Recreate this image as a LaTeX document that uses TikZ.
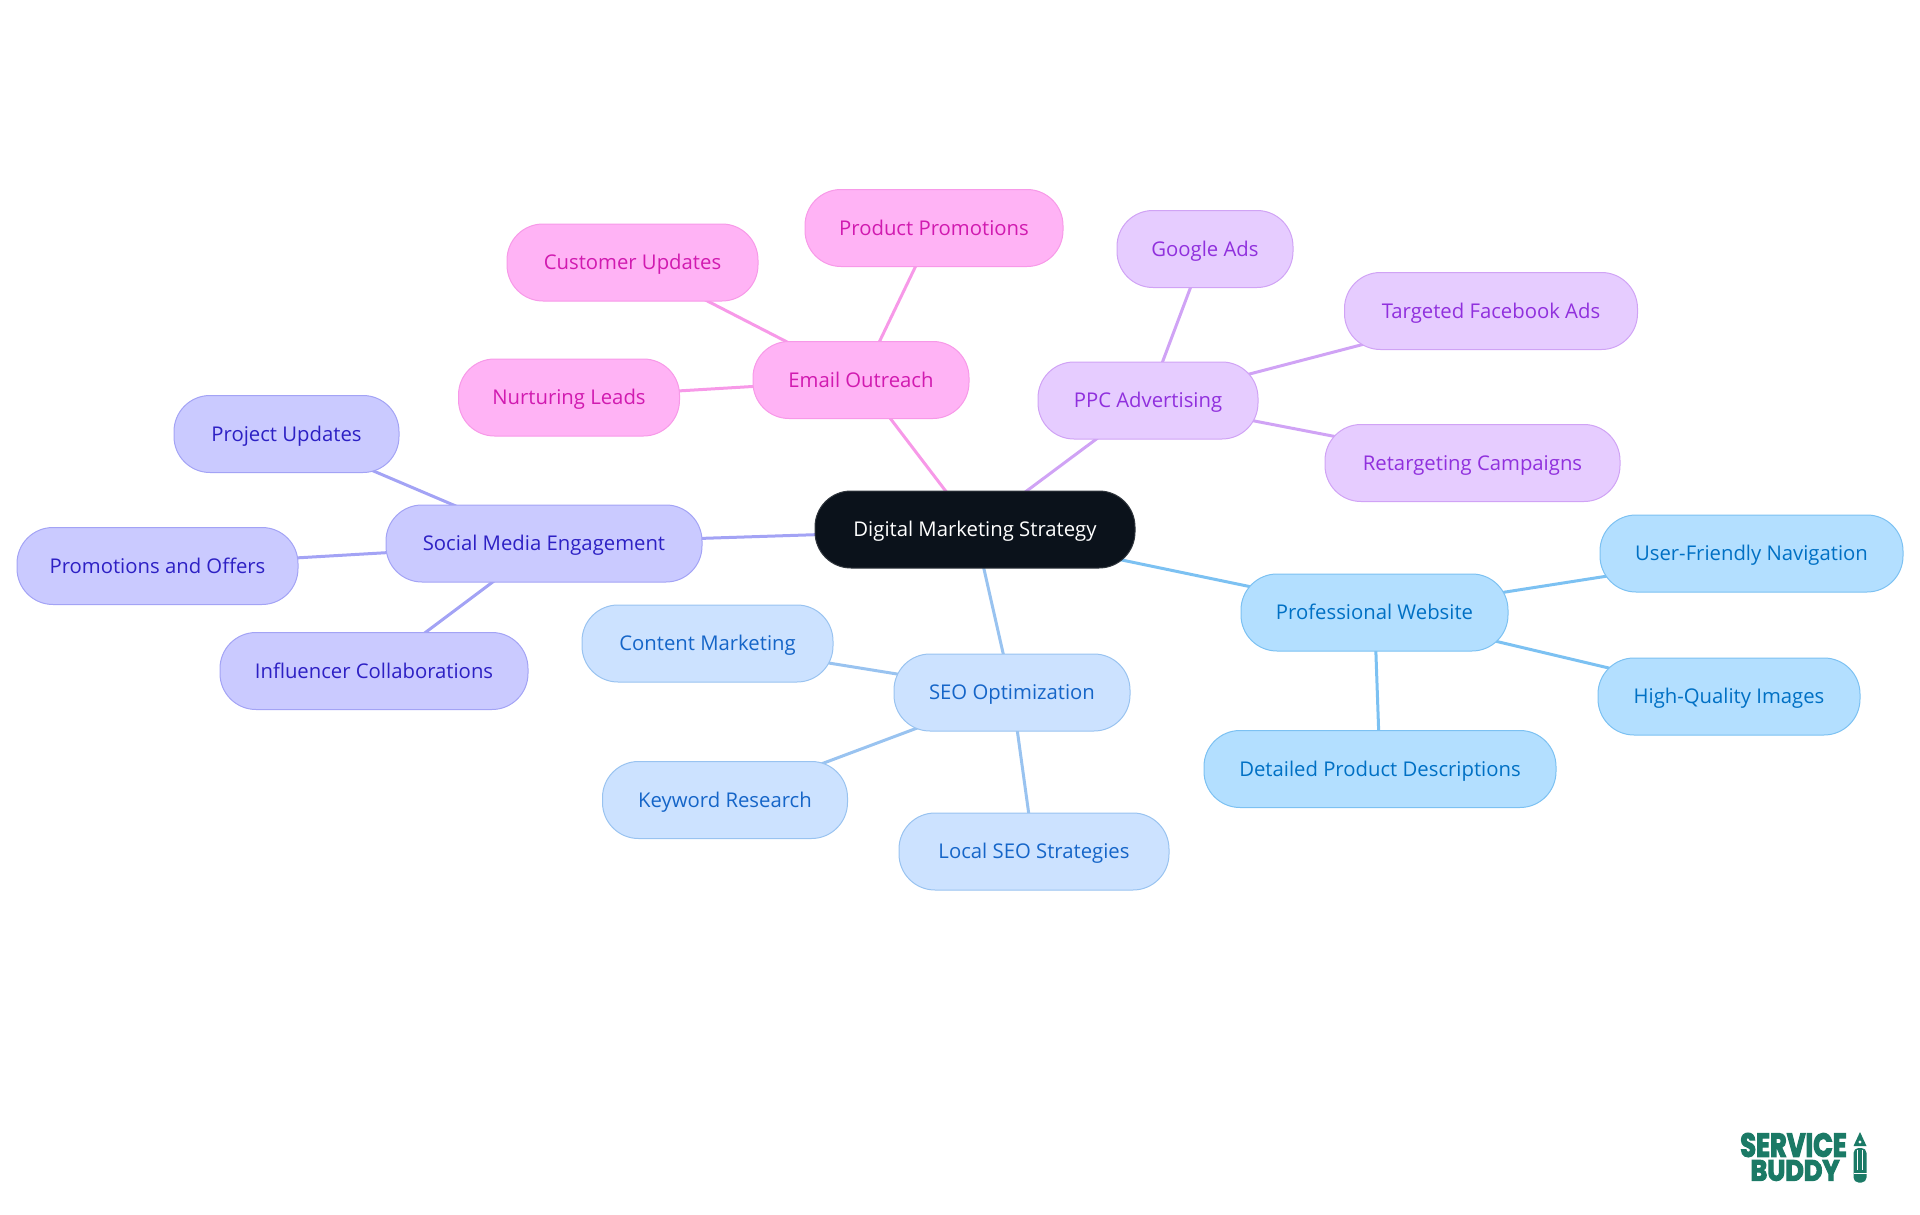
\documentclass[tikz,border=0pt]{standalone}
\usepackage{fontspec}
\setmainfont{Open Sans}
\newfontfamily\logofont[BoldFeatures={FakeBold=4}]{Poppins}
\pgfdeclarelayer{bg}
\pgfsetlayers{bg,main}
\definecolor{rootfill}{HTML}{0B121B}
\definecolor{webfill}{HTML}{B3DFFF}\definecolor{webline}{HTML}{7CC1F2}\definecolor{webtext}{HTML}{0070C4}
\definecolor{seofill}{HTML}{CCE2FF}\definecolor{seoline}{HTML}{99C3F0}\definecolor{seotext}{HTML}{1565C8}
\definecolor{socfill}{HTML}{CACAFF}\definecolor{socline}{HTML}{A3A3F5}\definecolor{soctext}{HTML}{2D20C4}
\definecolor{mailfill}{HTML}{FFB3F5}\definecolor{mailline}{HTML}{F799E8}\definecolor{mailtext}{HTML}{D11AB0}
\definecolor{ppcfill}{HTML}{E6CCFF}\definecolor{ppcline}{HTML}{D0A3F5}\definecolor{ppctext}{HTML}{9030DD}
\definecolor{logogreen}{HTML}{1B7A66}
\tikzset{
  box/.style={rounded corners=36pt,inner sep=0pt,minimum height=77pt,line width=1pt,align=center,
    text height=18pt,text depth=4pt,font=\fontsize{20.3}{25}\selectfont},
  rootbox/.style={box,fill=rootfill,draw=rootfill!85!white,text=white},
  webbox/.style={box,fill=webfill,draw=webline,text=webtext},
  seobox/.style={box,fill=seofill,draw=seoline,text=seotext},
  socbox/.style={box,fill=socfill,draw=socline,text=soctext},
  mailbox/.style={box,fill=mailfill,draw=mailline,text=mailtext},
  ppcbox/.style={box,fill=ppcfill,draw=ppcline,text=ppctext},
  link/.style={line width=3pt},
  logotxt/.style={inner sep=0pt,text=logogreen,transform shape}
}
\begin{document}
\begin{tikzpicture}[x=1pt,y=-1pt]
\useasboundingbox (0,0) rectangle (1920,1215);
\node[rootbox,minimum width=320pt] (root) at (975,529.5) {Digital Marketing Strategy};
\node[webbox,minimum width=267pt] (web) at (1374.5,612.5) {Professional Website};
\node[webbox,minimum width=303pt] (nav) at (1751.5,553.5) {User-Friendly Navigation};
\node[webbox,minimum width=262pt] (img) at (1729,696.5) {High-Quality Images};
\node[webbox,minimum width=352pt] (desc) at (1380,769) {Detailed Product Descriptions};
\node[seobox,minimum width=236pt] (seo) at (1012,692.5) {SEO Optimization};
\node[seobox,minimum width=251pt] (cont) at (707.5,643.5) {Content Marketing};
\node[seobox,minimum width=245pt] (key) at (725,800) {Keyword Research};
\node[seobox,minimum width=270pt] (local) at (1034,851.5) {Local SEO Strategies};
\node[socbox,minimum width=316pt] (soc) at (544,543.5) {Social Media Engagement};
\node[socbox,minimum width=225pt] (proj) at (286.5,434) {Project Updates};
\node[socbox,minimum width=281pt] (promo) at (157.5,566) {Promotions and Offers};
\node[socbox,minimum width=308pt] (infl) at (374,671) {Influencer Collaborations};
\node[mailbox,minimum width=216pt] (mail) at (861,380) {Email Outreach};
\node[mailbox,minimum width=221pt] (nurt) at (569,397.5) {Nurturing Leads};
\node[mailbox,minimum width=251pt] (cust) at (632.5,262.5) {Customer Updates};
\node[mailbox,minimum width=258pt] (prod) at (934,228) {Product Promotions};
\node[ppcbox,minimum width=220pt] (ppc) at (1148,400.5) {PPC Advertising};
\node[ppcbox,minimum width=176pt] (goog) at (1205,249) {Google Ads};
\node[ppcbox,minimum width=293pt] (fb) at (1491,311) {Targeted Facebook Ads};
\node[ppcbox,minimum width=295pt] (ret) at (1472.5,463) {Retargeting Campaigns};
\begin{pgfonlayer}{bg}
\draw[link,webline] (root.center)--(web.center) (web.center)--(nav.center) (web.center)--(img.center) (web.center)--(desc.center);
\draw[link,seoline] (root.center)--(seo.center) (seo.center)--(cont.center) (seo.center)--(key.center) (seo.center)--(local.center);
\draw[link,socline] (root.center)--(soc.center) (soc.center)--(proj.center) (soc.center)--(promo.center) (soc.center)--(infl.center);
\draw[link,mailline] (root.center)--(mail.center) (mail.center)--(nurt.center) (mail.center)--(cust.center) (mail.center)--(prod.center);
\draw[link,ppcline] (root.center)--(ppc.center) (ppc.center)--(goog.center) (ppc.center)--(fb.center) (ppc.center)--(ret.center);
\end{pgfonlayer}
% logo
\node[logotxt,xscale=0.78,font=\logofont\bfseries\fontsize{33}{33}\selectfont] (logoa) at (1793.5,1145) {SERVICE};
\node[logotxt,xscale=0.88,font=\logofont\bfseries\fontsize{29}{29}\selectfont] (logob) at (1795,1170.5) {BUDDY};
\fill[logogreen] (1860,1132) -- (1866.5,1146) -- (1853.5,1146) -- cycle;
\fill[white] (1860,1142) circle (1.6pt);
\fill[logogreen,rounded corners=5pt] (1853.5,1148) rectangle (1866.5,1182.5);
\draw[white,line width=1pt] (1857.5,1150) -- (1857.5,1170) (1862.5,1150) -- (1862.5,1170) (1853.5,1173) -- (1866.5,1173);
\end{tikzpicture}
\end{document}
